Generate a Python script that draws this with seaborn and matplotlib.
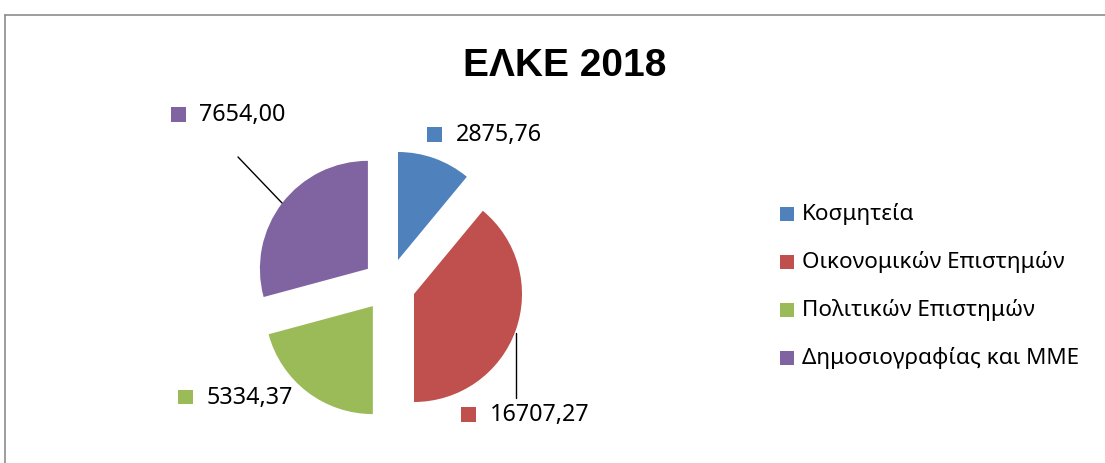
import matplotlib
matplotlib.use("Agg")
import matplotlib.pyplot as plt
import seaborn as sns
from matplotlib.patches import Rectangle
from matplotlib.lines import Line2D

# ---- data ----
categories = ["Κοσμητεία", "Οικονομικών Επιστημών", "Πολιτικών Επιστημών", "Δημοσιογραφίας και ΜΜΕ"]
label_values = ["2875,76", "16707,27", "5334,37", "7654,00"]
# angular share of each wedge as drawn (percent of the circle)
wedge_share = [11.0, 39.0, 20.8, 29.2]
colors = ["#4F81BD", "#C0504D", "#9BBB59", "#8064A2"]
title = "ΕΛΚΕ 2018"

sns.set_theme(style="white")
plt.rcParams["font.family"] = ["Noto Sans", "DejaVu Sans"]

W, H = 1105, 463
fig = plt.figure(figsize=(W / 100, H / 100), dpi=100)
fig.patch.set_facecolor("white")


def fx(x):
    return x / W


def fy(y):
    return 1 - y / H


# pie axes: centre at (389,285) px, radius 108 px
cx, cy, r = 389, 285, 108
half = 150
ax = fig.add_axes([fx(cx - half), fy(cy + half), 2 * half / W, 2 * half / H])
wedges, _ = ax.pie(wedge_share, colors=colors, startangle=90, counterclock=False,
                   explode=[0.246] * 4, radius=1, wedgeprops=dict(linewidth=0))
lim = half / r
ax.set_xlim(-lim, lim)
ax.set_ylim(-lim, lim)
ax.set_aspect("equal")
ax.axis("off")

# chart border (top and left visible)
fig.add_artist(Line2D([fx(5), fx(W + 5)], [fy(15), fy(15)], color="#8c8c8c", lw=1.2))
fig.add_artist(Line2D([fx(5), fx(5)], [fy(15), fy(H + 5)], color="#8c8c8c", lw=1.2))

# title
fig.text(fx(565), fy(66), title, ha="center", va="center", fontsize=28, fontweight="bold",
         color="black", family=["Liberation Sans", "DejaVu Sans"])

# data labels: (square centre x, y) in px; text left x
label_pos = [(434.5, 134.5, 456), (468.5, 414.5, 490), (185.5, 397, 207), (178.5, 114.5, 199)]
sq = 14.5
for (sx, sy, tx), col, txt in zip(label_pos, colors, label_values):
    fig.add_artist(Rectangle((fx(sx - sq / 2), fy(sy + sq / 2)), sq / W, sq / H,
                             transform=fig.transFigure, facecolor=col, edgecolor="none"))
    fig.text(fx(tx), fy(sy + 1), txt, ha="left", va="center", fontsize=16.8, color="black")

# leader lines
fig.add_artist(Line2D([fx(238), fx(282)], [fy(157), fy(203)], color="black", lw=1.0))
fig.add_artist(Line2D([fx(516), fx(516)], [fy(333), fy(398)], color="black", lw=1.0))

# legend
for i, (col, name) in enumerate(zip(colors, categories)):
    ly = 214 + 48 * i
    fig.add_artist(Rectangle((fx(780), fy(ly + 7)), 14 / W, 14 / H,
                             transform=fig.transFigure, facecolor=col, edgecolor="none"))
    fig.text(fx(802), fy(ly), name, ha="left", va="center", fontsize=16.2, color="black")

fig.savefig("out.png", dpi=100, facecolor="white")
